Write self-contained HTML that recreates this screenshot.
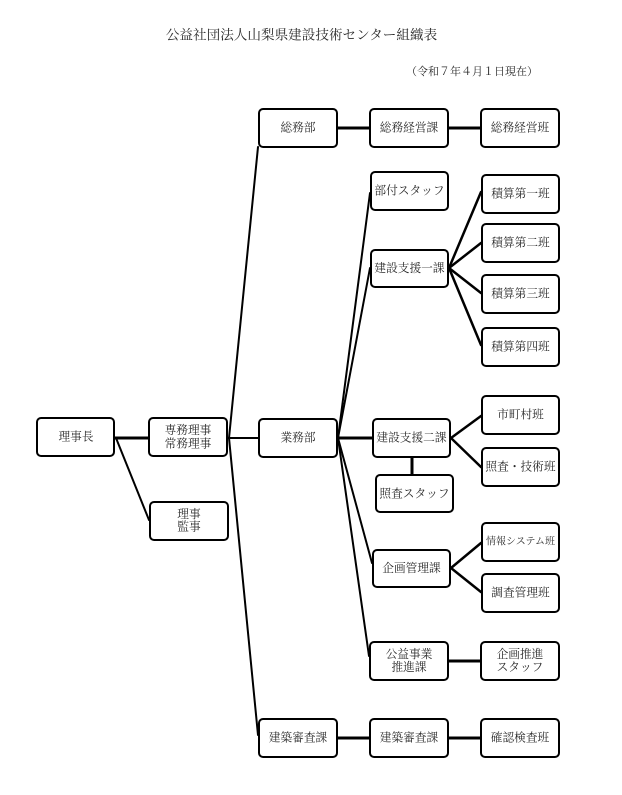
<!DOCTYPE html>
<html><head><meta charset="utf-8"><style>
html,body{margin:0;padding:0;background:#fff;}
svg{display:block;}
text{font-family:"Liberation Serif","Noto Serif CJK SC","Noto Serif CJK SC",serif;fill:#2a2a2a;}
</style></head><body>
<svg width="622" height="795" viewBox="0 0 622 795" xmlns="http://www.w3.org/2000/svg">
<text x="301.5" y="35" font-size="13.6" text-anchor="middle" dominant-baseline="central">公益社団法人山梨県建設技術センター組織表</text>
<text x="472" y="72" font-size="11" text-anchor="middle" dominant-baseline="central">（令和７年４月１日現在）</text>

<g stroke="#000" fill="none" stroke-linecap="round">
<line x1="115" y1="438" x2="148" y2="438" stroke-width="3"/>
<line x1="116" y1="438" x2="149" y2="520" stroke-width="2"/>
<line x1="228" y1="438" x2="258" y2="438" stroke-width="2"/>
<line x1="229" y1="438" x2="258" y2="147" stroke-width="2"/>
<line x1="229" y1="438" x2="258" y2="735" stroke-width="2"/>
<line x1="338" y1="128" x2="369" y2="128" stroke-width="3"/>
<line x1="449" y1="128" x2="480" y2="128" stroke-width="3"/>
<line x1="338" y1="438" x2="370" y2="193" stroke-width="2"/>
<line x1="338" y1="438" x2="370" y2="268" stroke-width="2"/>
<line x1="338" y1="438" x2="372" y2="438" stroke-width="3"/>
<line x1="338" y1="438" x2="372" y2="563" stroke-width="2"/>
<line x1="338" y1="438" x2="369" y2="656" stroke-width="2"/>
<line x1="449" y1="268" x2="481" y2="192" stroke-width="2.5"/>
<line x1="449" y1="268" x2="481" y2="243" stroke-width="2.5"/>
<line x1="449" y1="268" x2="481" y2="293" stroke-width="2.5"/>
<line x1="449" y1="268" x2="481" y2="345" stroke-width="2.5"/>
<line x1="451" y1="438" x2="481" y2="416" stroke-width="2.5"/>
<line x1="451" y1="438" x2="481" y2="467" stroke-width="2.5"/>
<line x1="412" y1="458" x2="412" y2="474" stroke-width="3"/>
<line x1="451" y1="568" x2="481" y2="543" stroke-width="2.5"/>
<line x1="451" y1="568" x2="481" y2="592" stroke-width="2.5"/>
<line x1="449" y1="661" x2="480" y2="661" stroke-width="3"/>
<line x1="338" y1="738" x2="369" y2="738" stroke-width="3"/>
<line x1="449" y1="738" x2="480" y2="738" stroke-width="3"/>
</g>

<g stroke="#000" stroke-width="2" fill="#fff">
<rect x="37" y="418" width="77" height="38" rx="4"/>
<rect x="149" y="418" width="78" height="38" rx="4"/>
<rect x="150" y="502" width="78" height="38" rx="4"/>
<rect x="259" y="109" width="78" height="38" rx="4"/>
<rect x="259" y="419" width="78" height="38" rx="4"/>
<rect x="259" y="719" width="78" height="38" rx="4"/>
<rect x="370" y="109" width="78" height="38" rx="4"/>
<rect x="371" y="172" width="77" height="38" rx="4"/>
<rect x="371" y="250" width="77" height="37" rx="4"/>
<rect x="373" y="419" width="77" height="38" rx="4"/>
<rect x="376" y="475" width="77" height="37" rx="4"/>
<rect x="373" y="550" width="77" height="37" rx="4"/>
<rect x="370" y="642" width="78" height="38" rx="4"/>
<rect x="370" y="719" width="78" height="38" rx="4"/>
<rect x="481" y="109" width="78" height="38" rx="4"/>
<rect x="482" y="175" width="77" height="38" rx="4"/>
<rect x="482" y="224" width="77" height="38" rx="4"/>
<rect x="482" y="275" width="77" height="38" rx="4"/>
<rect x="482" y="328" width="77" height="38" rx="4"/>
<rect x="482" y="396" width="77" height="38" rx="4"/>
<rect x="482" y="448" width="77" height="38" rx="4"/>
<rect x="482" y="523" width="77" height="38" rx="4"/>
<rect x="482" y="574" width="77" height="38" rx="4"/>
<rect x="481" y="642" width="78" height="38" rx="4"/>
<rect x="481" y="719" width="78" height="38" rx="4"/>
</g>

<g font-size="11.7" text-anchor="middle" dominant-baseline="central">
<text x="76" y="437">理事長</text>
<text x="188" y="430.5">専務理事</text>
<text x="188" y="444">常務理事</text>
<text x="189" y="514.5">理事</text>
<text x="189" y="527">監事</text>
<text x="298" y="128">総務部</text>
<text x="298" y="438">業務部</text>
<text x="298" y="738">建築審査課</text>
<text x="409" y="128">総務経営課</text>
<text x="409.5" y="191">部付スタッフ</text>
<text x="409.5" y="268.5">建設支援一課</text>
<text x="411.5" y="438">建設支援二課</text>
<text x="414.5" y="494">照査スタッフ</text>
<text x="411.5" y="568.5">企画管理課</text>
<text x="409" y="654.5">公益事業</text>
<text x="409" y="667.5">推進課</text>
<text x="409" y="738">建築審査課</text>
<text x="520" y="128">総務経営班</text>
<text x="520.5" y="194">積算第一班</text>
<text x="520.5" y="243">積算第二班</text>
<text x="520.5" y="294">積算第三班</text>
<text x="520.5" y="347">積算第四班</text>
<text x="520.5" y="415">市町村班</text>
<text x="520.5" y="467">照査・技術班</text>
<text x="520.5" y="542" font-size="10">情報システム班</text>
<text x="520.5" y="593">調査管理班</text>
<text x="520" y="654.5">企画推進</text>
<text x="520" y="667.5">スタッフ</text>
<text x="520" y="738">確認検査班</text>
</g>
</svg>
</body></html>
